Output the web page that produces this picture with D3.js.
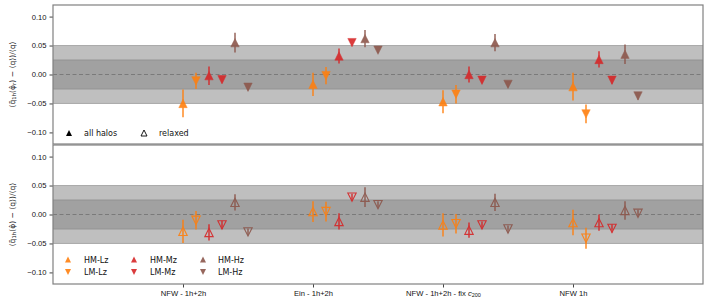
<!DOCTYPE html>
<html>
<head>
<meta charset="utf-8">
<script src="https://cdn.jsdelivr.net/npm/d3@7"></script>
<style>
body { margin:0; background:#fff; }
svg { font-family: "DejaVu Sans", sans-serif; }
.tick text { font-size:7.6px; fill:#111; }
</style>
</head>
<body>
<svg id="chart"></svg>
<script>
// fit categories along the x axis
var categories = ["NFW - 1h+2h", "Ein - 1h+2h", "NFW - 1h+2h - fix c200", "NFW 1h"];
var seriesNames = ["HM-Lz", "LM-Lz", "HM-Mz", "LM-Mz", "HM-Hz", "LM-Hz"];
var seriesColors = ["#ff7f0e", "#ff7f0e", "#d62728", "#d62728", "#8c564b", "#8c564b"];
var seriesUp = [true, false, true, false, true, false];
var seriesOffset = [0, 0.1, 0.2, 0.3, 0.4, 0.5];
var yTicks = [-0.10, -0.05, 0.00, 0.05, 0.10];

// top panel: all halos
var allValues = [
    [-0.050, -0.017, -0.047, -0.021],
    [-0.011, -0.002, -0.034, -0.068],
    [-0.002,  0.032,  0.000,  0.026],
    [-0.009,  0.055, -0.010, -0.010],
    [ 0.055,  0.062,  0.055,  0.035],
    [-0.022,  0.042, -0.017, -0.037]
];
var allErrors = [
    [0.024, 0.020, 0.020, 0.024],
    [0.014, 0.015, 0.016, 0.016],
    [0.016, 0.013, 0.014, 0.014],
    [0.005, 0.005, 0.005, 0.006],
    [0.017, 0.015, 0.015, 0.017],
    [0.005, 0.005, 0.005, 0.006]
];

// bottom panel: relaxed
var relaxedValues = [
    [-0.029,  0.005, -0.018, -0.014],
    [-0.010,  0.005, -0.016, -0.041],
    [-0.031, -0.012, -0.027, -0.014],
    [-0.018,  0.030, -0.018, -0.024],
    [ 0.021,  0.030,  0.021,  0.007],
    [-0.030,  0.017, -0.025,  0.002]
];
var relaxedErrors = [
    [0.020, 0.018, 0.020, 0.022],
    [0.016, 0.017, 0.017, 0.018],
    [0.014, 0.014, 0.013, 0.014],
    [0.007, 0.006, 0.006, 0.007],
    [0.014, 0.017, 0.015, 0.016],
    [0.006, 0.006, 0.006, 0.006]
];

var screen = {width:710, height:304};
var margins = {left:53, right:7};
var panelTop = [5, 145];
var panelHeight = 139;
var width = screen.width - margins.left - margins.right;

var svg = d3.select("#chart")
    .attr("width", screen.width)
    .attr("height", screen.height);

var xScale = d3.scaleLinear()
    .domain([-1, 4])
    .range([0, width]);

var triangle = function(up, s)
{
    if (up) return "M0," + (-s) + "L" + s + "," + s + "L" + (-s) + "," + s + "Z";
    return "M0," + s + "L" + s + "," + (-s) + "L" + (-s) + "," + (-s) + "Z";
}

var drawPanel = function(top, values, errors, filled, showX)
{
    var yScale = d3.scaleLinear()
        .domain([-0.12, 0.12])
        .range([panelHeight, 0]);

    var g = svg.append("g")
        .attr("transform", "translate(" + margins.left + "," + top + ")");

    // bands
    g.append("rect")
        .attr("x", 0).attr("width", width)
        .attr("y", yScale(0.05)).attr("height", yScale(-0.05) - yScale(0.05))
        .attr("fill", "#bfbfbf");
    g.append("rect")
        .attr("x", 0).attr("width", width)
        .attr("y", yScale(0.025)).attr("height", yScale(-0.025) - yScale(0.025))
        .attr("fill", "#a1a1a1");
    [0.05, -0.05].forEach(function(v) {
        g.append("line").attr("x1", 0).attr("x2", width)
            .attr("y1", yScale(v)).attr("y2", yScale(v))
            .attr("stroke", "#aaaaaa").attr("stroke-width", 1);
    });
    [0.025, -0.025].forEach(function(v) {
        g.append("line").attr("x1", 0).attr("x2", width)
            .attr("y1", yScale(v)).attr("y2", yScale(v))
            .attr("stroke", "#949494").attr("stroke-width", 1);
    });
    g.append("line").attr("x1", 0).attr("x2", width)
        .attr("y1", yScale(0)).attr("y2", yScale(0))
        .attr("stroke", "#7a7a7a").attr("stroke-width", 1)
        .attr("stroke-dasharray", "4,2.5");

    // points with error bars
    seriesNames.forEach(function(name, si)
    {
        var pts = g.append("g").selectAll("g")
            .data(values[si].map(function(v, i) { return {v:v, e:errors[si][i], i:i}; }))
            .enter()
            .append("g")
            .attr("opacity", 0.9)
            .attr("transform", function(d) {
                return "translate(" + xScale(d.i + seriesOffset[si]) + "," + yScale(d.v) + ")";
            });
        pts.append("line")
            .attr("x1", 0).attr("x2", 0)
            .attr("y1", function(d) { return yScale(d.v + d.e) - yScale(d.v); })
            .attr("y2", function(d) { return yScale(d.v - d.e) - yScale(d.v); })
            .attr("stroke", seriesColors[si])
            .attr("stroke-width", 1.5);
        pts.append("path")
            .attr("d", triangle(seriesUp[si], 4.2))
            .attr("fill", filled ? seriesColors[si] : "none")
            .attr("stroke", seriesColors[si])
            .attr("stroke-width", filled ? 0.5 : 1.1);
    });

    // axes
    var yAxis = d3.axisLeft(yScale)
        .tickValues(yTicks)
        .tickSize(3.5)
        .tickPadding(3)
        .tickFormat(function(d) { return d3.format(".2f")(d).replace("-", "\u2212"); });
    var ya = g.append("g").call(yAxis);
    ya.select(".domain").remove();
    ya.selectAll(".tick line").attr("stroke", "#444");

    if (showX)
    {
        var xa = g.append("g")
            .attr("transform", "translate(0," + panelHeight + ")")
            .call(d3.axisBottom(xScale).tickValues([0, 1, 2, 3]).tickSize(3.5).tickPadding(3)
                .tickFormat(function(d) { return categories[d]; }));
        xa.select(".domain").remove();
        xa.selectAll(".tick line").attr("stroke", "#444");
        // subscript for c200
        var last = xa.selectAll(".tick text").filter(function(d) { return d == 2; });
        last.text("NFW - 1h+2h - fix ");
        last.append("tspan").attr("font-style", "italic").text("c");
        last.append("tspan").attr("font-size", "5.5px").attr("dy", 1.5).text("200");
    }

    g.append("rect")
        .attr("width", width).attr("height", panelHeight)
        .attr("fill", "none")
        .attr("stroke", "#808080")
        .attr("stroke-width", 1.2);

    return g;
}

var topPanel = drawPanel(panelTop[0], allValues, allErrors, true, false);
var botPanel = drawPanel(panelTop[1], relaxedValues, relaxedErrors, false, true);

// y labels
var yLabel = function(top, sub)
{
    var t = svg.append("text")
        .attr("transform", "translate(14.5," + (top + panelHeight / 2) + ") rotate(-90)")
        .attr("text-anchor", "middle")
        .attr("font-size", "7.6px")
        .attr("fill", "#111");
    t.append("tspan").text("(q\u0303");
    t.append("tspan").attr("font-size", "5.3px").attr("dy", 1.5).text("1h");
    t.append("tspan").attr("dy", -1.5).text("(\u03c6\u0302");
    if (sub)
    {
        t.append("tspan").attr("font-size", "5.3px").attr("dy", 1.5).text(sub);
        t.append("tspan").attr("dy", -1.5).text(") \u2212 \u27e8q\u27e9)/\u27e8q\u27e9");
    }
    else
        t.append("tspan").text(") \u2212 \u27e8q\u27e9)/\u27e8q\u27e9");
}
yLabel(panelTop[0], "r");
yLabel(panelTop[1], null);

// top legend
var legTop = svg.append("g").attr("font-size", "8px").attr("fill", "#111");
legTop.append("path").attr("d", triangle(true, 3))
    .attr("transform", "translate(69,133)").attr("fill", "#000");
legTop.append("text").attr("x", 84).attr("y", 136).text("all halos");
legTop.append("path").attr("d", triangle(true, 3))
    .attr("transform", "translate(144,133)").attr("fill", "none").attr("stroke", "#000").attr("stroke-width", 0.9);
legTop.append("text").attr("x", 159).attr("y", 136).text("relaxed");

// bottom legend
var legX = [68, 134, 203];
var legTextX = [84, 150, 218];
var legY = [259.5, 272];
var legBot = svg.append("g").attr("font-size", "8px").attr("fill", "#111");
seriesNames.forEach(function(name, si)
{
    var col = Math.floor(si / 2), row = si % 2;
    legBot.append("path").attr("d", triangle(seriesUp[si], 3))
        .attr("transform", "translate(" + legX[col] + "," + legY[row] + ")")
        .attr("fill", seriesColors[si]).attr("opacity", 0.9);
    legBot.append("text").attr("x", legTextX[col]).attr("y", legY[row] + 3).text(name);
});
</script>
</body>
</html>
